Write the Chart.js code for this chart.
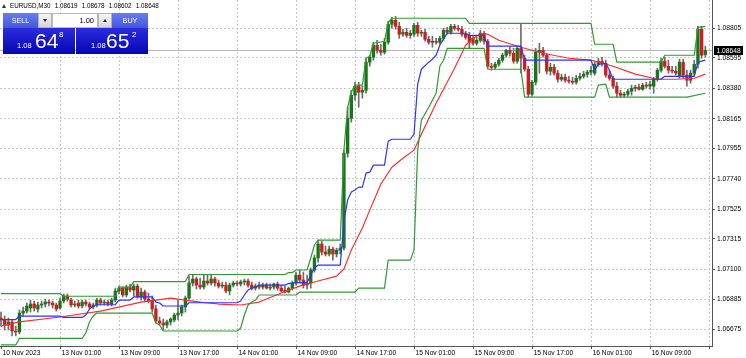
<!DOCTYPE html>
<html><head><meta charset="utf-8">
<script src="https://cdn.jsdelivr.net/npm/chart.js@4.4.0/dist/chart.umd.min.js"></script>
<style>
html,body{margin:0;padding:0;background:#fff;}
#wrap{position:relative;width:746px;height:358px;overflow:hidden;font-family:"Liberation Sans",Arial,sans-serif;}
#c{position:absolute;left:0;top:0;}
.ov{position:absolute;box-sizing:border-box;}
#tri{left:2px;top:4px;width:0;height:0;border-left:2.5px solid transparent;border-right:2.5px solid transparent;border-bottom:4px solid #333;}
#title{left:10px;top:2px;font-size:6.3px;line-height:8px;color:#000;white-space:pre;word-spacing:2.5px;}
.btn{top:13px;height:15px;color:#fff;font-size:7.2px;line-height:15px;text-align:center;background:linear-gradient(#6a7cec,#4357dc);}
.spin{top:13px;width:14px;height:15px;background:linear-gradient(#f6f6f6,#d6d6d6);border:1px solid #b4b4b4;}
.dn{position:absolute;left:4px;top:5px;width:0;height:0;border-left:2.5px solid transparent;border-right:2.5px solid transparent;border-top:3px solid #222;}
.up{position:absolute;left:4px;top:5px;width:0;height:0;border-left:2.5px solid transparent;border-right:2.5px solid transparent;border-bottom:3px solid #222;}
#lot{left:52px;top:13px;width:46px;height:15px;background:#fff;border:1px solid #b8b8b8;font-size:7.5px;line-height:13px;text-align:right;padding-right:3px;color:#000;}
.pbox{top:28px;width:72px;height:26px;background:linear-gradient(#2b2be0,#0606b2);color:#fff;}
.pbox span{position:absolute;line-height:1;white-space:pre;}
.sm{font-size:7.5px;top:13.6px;}
.big{font-size:21px;top:2.2px;}
.sup{font-size:8px;top:2.9px;}
</style></head>
<body>
<div id="wrap">
<canvas id="c" width="746" height="358"></canvas>
<div class="ov" id="tri"></div>
<div class="ov" id="title">EURUSD,M30 1.08619 1.08678 1.08602 1.08648</div>
<div class="ov btn" style="left:3px;width:35px;">SELL</div>
<div class="ov spin" style="left:38px;"><div class="dn"></div></div>
<div class="ov" id="lot">1.00</div>
<div class="ov spin" style="left:98px;"><div class="up"></div></div>
<div class="ov btn" style="left:112px;width:36px;">BUY</div>
<div class="ov pbox" style="left:3px;"><span class="sm" style="left:14px">1.08</span><span class="big" style="left:32px">64</span><span class="sup" style="left:56px">8</span></div>
<div class="ov pbox" style="left:76px;"><span class="sm" style="left:15px">1.08</span><span class="big" style="left:30px">65</span><span class="sup" style="left:56px">2</span></div>
</div>
<script>
// ---- x axis (bar index) tick labels ----
const tickIdx  = [0,16,32,48,64,80,96,112,128,144,160,176,192];
const tickText = ["10 Nov 2023","13 Nov 01:00","13 Nov 09:00","13 Nov 17:00","14 Nov 01:00","14 Nov 09:00","14 Nov 17:00","15 Nov 01:00","15 Nov 09:00","15 Nov 17:00","16 Nov 01:00","16 Nov 09:00",""];
// ---- y axis tick labels ----
const yTicks = [1.08805,1.08595,1.08380,1.08165,1.07955,1.07740,1.07525,1.07315,1.07100,1.06885,1.06675];

// ---- EURUSD M30 candles ----
const opens = [
1.06753,1.06739,1.06703,1.06725,1.06661,1.06654,1.06788,1.06802,1.06824,1.06852,
1.06817,1.06845,1.06852,1.06866,1.06859,1.06845,1.06824,1.06873,1.06909,1.06880,
1.06845,1.06859,1.06838,1.06866,1.06852,1.06831,1.06845,1.06880,1.06859,1.06866,
1.06852,1.06880,1.06944,1.06965,1.06916,1.06972,1.06951,1.06979,1.06902,1.06937,
1.06887,1.06873,1.06817,1.06732,1.06718,1.06703,1.06725,1.06739,1.06774,1.06788,
1.06831,1.06894,1.07001,1.07029,1.06986,1.06972,1.07015,1.07001,1.07029,1.07001,
1.06979,1.06986,1.06944,1.06986,1.07001,1.06994,1.07008,1.07015,1.06986,1.06965,
1.06979,1.06972,1.06986,1.06965,1.06972,1.06994,1.06965,1.06951,1.06937,1.06965,
1.07001,1.07057,1.07022,1.06986,1.07001,1.07093,1.07178,1.07277,1.07220,1.07206,
1.07241,1.07206,1.07234,1.07248,1.07920,1.08168,1.08331,1.08395,1.08352,1.08366,
1.08565,1.08600,1.08685,1.08649,1.08635,1.08706,1.08833,1.08862,1.08819,1.08763,
1.08777,1.08755,1.08763,1.08826,1.08770,1.08777,1.08727,1.08706,1.08713,1.08706,
1.08734,1.08791,1.08777,1.08819,1.08805,1.08798,1.08763,1.08755,1.08734,1.08699,
1.08720,1.08770,1.08713,1.08536,1.08529,1.08550,1.08579,1.08614,1.08649,1.08628,
1.08572,1.08663,1.08593,1.08515,1.08338,1.08423,1.08635,1.08649,1.08614,1.08501,
1.08529,1.08487,1.08444,1.08458,1.08437,1.08430,1.08423,1.08451,1.08465,1.08480,
1.08494,1.08487,1.08550,1.08572,1.08557,1.08473,1.08451,1.08395,1.08345,1.08331,
1.08338,1.08359,1.08380,1.08388,1.08373,1.08402,1.08395,1.08395,1.08444,1.08508,
1.08572,1.08536,1.08508,1.08501,1.08465,1.08565,1.08473,1.08437,1.08487,1.08550,
1.08798,1.08619];
const highs = [
1.06795,1.06767,1.06753,1.06739,1.06696,1.06810,1.06831,1.06859,1.06880,1.06873,
1.06866,1.06873,1.06887,1.06880,1.06873,1.06859,1.06894,1.06923,1.06923,1.06894,
1.06873,1.06880,1.06880,1.06880,1.06866,1.06859,1.06894,1.06894,1.06880,1.06880,
1.06894,1.06965,1.06979,1.06972,1.06986,1.06994,1.06994,1.06994,1.06965,1.06951,
1.06930,1.06909,1.06845,1.06760,1.06746,1.06739,1.06753,1.06788,1.06880,1.06845,
1.06909,1.07050,1.07057,1.07043,1.07036,1.07057,1.07057,1.07057,1.07043,1.07022,
1.07008,1.07008,1.07001,1.07015,1.07015,1.07022,1.07029,1.07029,1.07008,1.06994,
1.07008,1.07001,1.07001,1.06994,1.07001,1.07008,1.06986,1.06979,1.06972,1.07015,
1.07078,1.07093,1.07078,1.07057,1.07107,1.07199,1.07305,1.07298,1.07262,1.07262,
1.07255,1.07248,1.07277,1.07942,1.08246,1.08366,1.08423,1.08423,1.08395,1.08593,
1.08614,1.08706,1.08720,1.08692,1.08734,1.08855,1.08883,1.08890,1.08847,1.08798,
1.08805,1.08791,1.08840,1.08847,1.08791,1.08798,1.08748,1.08748,1.08734,1.08748,
1.08805,1.08812,1.08833,1.08833,1.08826,1.08819,1.08784,1.08777,1.08755,1.08741,
1.08791,1.08784,1.08727,1.08557,1.08565,1.08593,1.08628,1.08656,1.08671,1.08663,
1.08678,1.08833,1.08614,1.08536,1.08437,1.08663,1.08699,1.08671,1.08628,1.08557,
1.08550,1.08508,1.08480,1.08480,1.08465,1.08458,1.08473,1.08487,1.08501,1.08508,
1.08536,1.08565,1.08593,1.08600,1.08579,1.08508,1.08465,1.08423,1.08366,1.08352,
1.08373,1.08402,1.08402,1.08409,1.08416,1.08423,1.08430,1.08458,1.08522,1.08593,
1.08600,1.08579,1.08536,1.08536,1.08586,1.08586,1.08508,1.08508,1.08579,1.08819,
1.08819,1.08678];
const lows = [
1.06696,1.06668,1.06668,1.06626,1.06626,1.06640,1.06767,1.06788,1.06795,1.06802,
1.06795,1.06824,1.06831,1.06838,1.06824,1.06802,1.06817,1.06859,1.06873,1.06831,
1.06831,1.06824,1.06824,1.06838,1.06817,1.06817,1.06831,1.06845,1.06845,1.06838,
1.06838,1.06866,1.06923,1.06902,1.06902,1.06937,1.06909,1.06894,1.06880,1.06866,
1.06859,1.06795,1.06718,1.06703,1.06668,1.06682,1.06703,1.06725,1.06739,1.06767,
1.06795,1.06887,1.06979,1.06958,1.06958,1.06958,1.06986,1.06986,1.06979,1.06965,
1.06965,1.06930,1.06916,1.06972,1.06979,1.06979,1.06986,1.06972,1.06951,1.06951,
1.06958,1.06958,1.06958,1.06951,1.06958,1.06951,1.06937,1.06930,1.06930,1.06951,
1.06986,1.07001,1.06965,1.06958,1.06965,1.07078,1.07149,1.07199,1.07192,1.07192,
1.07163,1.07185,1.07206,1.07234,1.07892,1.08140,1.08296,1.08246,1.08310,1.08345,
1.08536,1.08579,1.08628,1.08614,1.08621,1.08692,1.08805,1.08798,1.08734,1.08748,
1.08741,1.08734,1.08748,1.08748,1.08748,1.08713,1.08692,1.08671,1.08692,1.08692,
1.08720,1.08763,1.08763,1.08791,1.08784,1.08748,1.08727,1.08663,1.08685,1.08685,
1.08706,1.08692,1.08522,1.08508,1.08515,1.08536,1.08565,1.08600,1.08607,1.08557,
1.08557,1.08487,1.08501,1.08317,1.08324,1.08402,1.08487,1.08600,1.08480,1.08473,
1.08473,1.08423,1.08430,1.08423,1.08416,1.08409,1.08409,1.08437,1.08451,1.08458,
1.08473,1.08473,1.08536,1.08536,1.08458,1.08437,1.08380,1.08317,1.08317,1.08317,
1.08324,1.08331,1.08359,1.08366,1.08366,1.08380,1.08373,1.08345,1.08430,1.08494,
1.08522,1.08487,1.08487,1.08473,1.08451,1.08451,1.08395,1.08416,1.08465,1.08522,
1.08593,1.08602];
const closes = [
1.06739,1.06703,1.06725,1.06661,1.06654,1.06788,1.06802,1.06838,1.06852,1.06824,
1.06845,1.06852,1.06866,1.06859,1.06845,1.06817,1.06873,1.06909,1.06887,1.06845,
1.06852,1.06838,1.06866,1.06852,1.06831,1.06845,1.06880,1.06859,1.06866,1.06852,
1.06880,1.06944,1.06965,1.06916,1.06972,1.06951,1.06979,1.06902,1.06937,1.06887,
1.06873,1.06817,1.06732,1.06718,1.06703,1.06725,1.06746,1.06774,1.06788,1.06831,
1.06894,1.07001,1.07029,1.06986,1.06972,1.07015,1.07001,1.07029,1.07001,1.06979,
1.06986,1.06944,1.06986,1.07001,1.06994,1.07008,1.07015,1.06986,1.06965,1.06979,
1.06972,1.06986,1.06965,1.06972,1.06994,1.06965,1.06944,1.06937,1.06965,1.07001,
1.07057,1.07022,1.06986,1.07001,1.07093,1.07178,1.07277,1.07220,1.07206,1.07241,
1.07206,1.07234,1.07248,1.07920,1.08168,1.08331,1.08395,1.08352,1.08366,1.08565,
1.08600,1.08685,1.08649,1.08635,1.08706,1.08833,1.08862,1.08819,1.08763,1.08777,
1.08755,1.08770,1.08826,1.08770,1.08777,1.08727,1.08706,1.08713,1.08706,1.08734,
1.08791,1.08777,1.08819,1.08805,1.08798,1.08763,1.08741,1.08706,1.08699,1.08720,
1.08770,1.08713,1.08536,1.08529,1.08550,1.08579,1.08614,1.08649,1.08628,1.08572,
1.08663,1.08593,1.08515,1.08338,1.08423,1.08635,1.08649,1.08614,1.08501,1.08529,
1.08487,1.08444,1.08458,1.08437,1.08430,1.08423,1.08451,1.08465,1.08480,1.08494,
1.08508,1.08550,1.08572,1.08557,1.08473,1.08451,1.08395,1.08345,1.08331,1.08338,
1.08359,1.08380,1.08388,1.08373,1.08402,1.08395,1.08409,1.08444,1.08508,1.08572,
1.08536,1.08508,1.08501,1.08487,1.08565,1.08473,1.08437,1.08487,1.08550,1.08798,
1.08614,1.08648];

// ---- indicator lines (vertices: bar index / price) ----
const upperBars = [0,16,17,31,32,35,36,50,51,77,78,79,80,83,84,85,86,92,93,94,95,96,98,99,100,101,104,105,106,126,127,160,161,166,167,179,180,188,189,191];
const upperVals = [1.06925,1.06925,1.06907,1.06907,1.06972,1.06972,1.07011,1.07011,1.07061,1.07061,1.07075,1.07075,1.07093,1.07093,1.07178,1.07270,1.07305,1.07305,1.07942,1.08246,1.08352,1.08402,1.08402,1.08593,1.08607,1.08699,1.08713,1.08847,1.08876,1.08876,1.08840,1.08840,1.08692,1.08692,1.08565,1.08565,1.08614,1.08614,1.08812,1.08819];
const lowerBars = [0,4,5,22,23,24,25,26,41,42,43,44,64,65,66,67,68,69,70,80,81,96,97,104,105,111,112,113,114,116,117,118,119,120,121,131,132,141,142,161,162,164,165,186,191];
const lowerVals = [1.06562,1.06562,1.06608,1.06608,1.06647,1.06725,1.06767,1.06788,1.06788,1.06718,1.06703,1.06661,1.06661,1.06682,1.06774,1.06845,1.06866,1.06880,1.06916,1.06916,1.06937,1.06937,1.06965,1.06965,1.07163,1.07163,1.07234,1.07942,1.08154,1.08246,1.08296,1.08345,1.08536,1.08579,1.08663,1.08663,1.08515,1.08515,1.08317,1.08317,1.08402,1.08409,1.08317,1.08317,1.08345];
const midBars = [0,4,5,16,17,22,23,24,25,26,31,32,35,36,41,42,43,44,50,51,64,65,66,67,68,69,70,77,78,80,83,84,85,86,92,93,94,95,96,97,98,99,100,101,104,105,106,111,112,113,114,116,117,118,119,120,121,126,127,131,132,141,142,160,161,162,164,165,166,179,180,188,189,191];
const midVals = [1.06742,1.06742,1.06767,1.06767,1.06757,1.06757,1.06774,1.06817,1.06838,1.06847,1.06847,1.06880,1.06880,1.06902,1.06902,1.06866,1.06859,1.06838,1.06838,1.06861,1.06861,1.06873,1.06916,1.06951,1.06965,1.06972,1.06986,1.06986,1.06997,1.07004,1.07004,1.07057,1.07107,1.07128,1.07128,1.07439,1.07588,1.07645,1.07659,1.07680,1.07680,1.07779,1.07786,1.07836,1.07836,1.08005,1.08019,1.08019,1.08055,1.08409,1.08515,1.08565,1.08586,1.08614,1.08685,1.08727,1.08770,1.08770,1.08755,1.08755,1.08678,1.08678,1.08579,1.08579,1.08508,1.08550,1.08557,1.08508,1.08444,1.08444,1.08465,1.08465,1.08565,1.08579];
const maBars = [0,5,16,27,38,42,46,50,54,59,65,70,76,81,86,91,93,95,98,100,103,106,109,112,114,118,123,126,128,130,132,135,141,147,154,160,166,172,178,183,188,191];
const maVals = [1.06696,1.06725,1.06760,1.06802,1.06866,1.06880,1.06894,1.06880,1.06866,1.06852,1.06845,1.06866,1.06930,1.06979,1.07015,1.07050,1.07100,1.07234,1.07390,1.07517,1.07701,1.07821,1.07885,1.07942,1.08055,1.08274,1.08522,1.08685,1.08734,1.08763,1.08763,1.08720,1.08671,1.08628,1.08593,1.08579,1.08536,1.08480,1.08444,1.08444,1.08451,1.08480];

const lastPrice = closes[closes.length - 1];
const gridCol = '#c4c8cd';
const bull = '#1a741a', bear = '#cf1d1d', wickCol = '#6c6c6c';
const axisFont = {family:'"Liberation Sans", Arial, sans-serif', size:6.7};

function lineDs(label, xs, ys, color){
  return {type:'line', label, data: xs.map((x,i)=>({x, y: ys[i]})), borderColor: color, borderWidth: 1.2,
          pointRadius: 0, fill: false, tension: 0, order: 0, borderJoinStyle:'round'};
}

const bidLine = {
  id: 'bidLine',
  beforeDatasetsDraw(chart){
    const {ctx, chartArea: a, scales: {y}} = chart;
    const py = Math.round(y.getPixelForValue(lastPrice)) + 0.5;
    ctx.save(); ctx.strokeStyle = '#b7b7b7'; ctx.lineWidth = 1;
    ctx.beginPath(); ctx.moveTo(a.left, py); ctx.lineTo(a.right, py); ctx.stroke(); ctx.restore();
  },
  afterDraw(chart){
    const {ctx, chartArea: a, scales: {y}} = chart;
    const py = Math.round(y.getPixelForValue(lastPrice));
    ctx.save(); ctx.fillStyle = '#000'; ctx.fillRect(a.right + 2, py - 4, 29, 9);
    ctx.fillStyle = '#fff'; ctx.font = '6.7px "Liberation Sans", Arial, sans-serif';
    ctx.textBaseline = 'middle'; ctx.textAlign = 'left';
    ctx.fillText(lastPrice.toFixed(5), a.right + 4.5, py + 0.8); ctx.restore();
  }
};

new Chart(document.getElementById('c'), {
  type: 'bar',
  data: { datasets: [
    lineDs('Channel upper', upperBars, upperVals, '#2f9a2f'),
    lineDs('Channel lower', lowerBars, lowerVals, '#2f9a2f'),
    lineDs('Channel middle', midBars, midVals, '#2a35ff'),
    lineDs('Moving average', maBars, maVals, '#ff2e2e'),
    { type:'bar', label:'Body', data: opens.map((o,i)=>({x:i, y:[o, closes[i]]})),
      backgroundColor: opens.map((o,i)=> closes[i] >= o ? bull : bear),
      barThickness: 2.7, grouped: false, minBarLength: 1, order: 1 },
    { type:'bar', label:'Wick', data: highs.map((h,i)=>({x:i, y:[lows[i], h]})),
      backgroundColor: wickCol, barThickness: 1, grouped: false, order: 2 }
  ]},
  options: {
    responsive: false, animation: false,
    layout: { padding: 0 },
    plugins: { legend: {display:false}, tooltip: {enabled:false}, title: {display:false} },
    scales: {
      x: { type:'linear', min: -0.2712, max: 192.8135, offset: false,
        afterBuildTicks: s => { s.ticks = tickIdx.map(v => ({value: v})); },
        afterFit: s => { s.height = 12; s.paddingLeft = 0; s.paddingRight = 0; },
        ticks: { autoSkip:false, maxRotation:0, minRotation:0, align:'start', padding:0, labelOffset: 1.5, font: axisFont, color:'#000',
                 callback: v => { const k = tickIdx.indexOf(v); return k >= 0 ? tickText[k] : ''; } },
        grid: { color: c => (c.tick && c.tick.value === 0) ? 'rgba(0,0,0,0)' : gridCol, lineWidth: 1, tickLength: 3, tickColor: '#555', offset: false },
        border: { display: true, color: '#555', width: 1, dash: [2,2] }
      },
      y: { type:'linear', position:'right', min: 1.065547, max: 1.090054,
        afterBuildTicks: s => { s.ticks = yTicks.map(v => ({value: v})); },
        afterFit: s => { s.width = 34; s.paddingTop = 0; s.paddingBottom = 0; },
        ticks: { padding: 2, font: axisFont, color:'#000', callback: v => Number(v).toFixed(5) },
        grid: { color: gridCol, lineWidth: 1, tickLength: 3, tickColor: '#555' },
        border: { display: true, color: '#555', width: 1, dash: [2,2] }
      }
    }
  },
  plugins: [bidLine]
});
</script>
</body></html>
